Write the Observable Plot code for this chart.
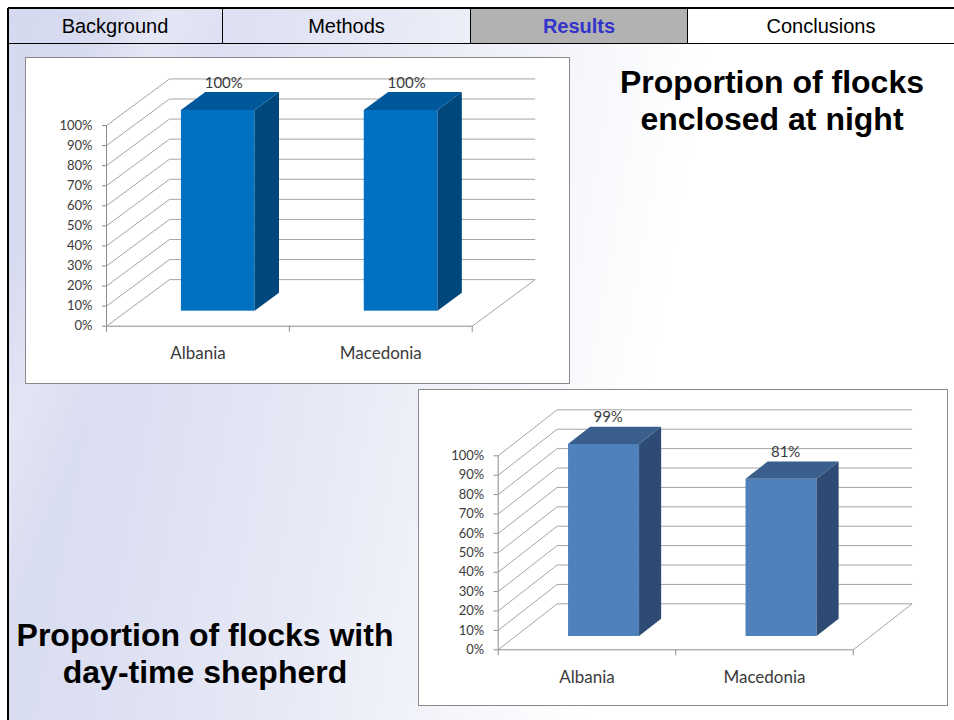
<!DOCTYPE html>
<html>
<head>
<meta charset="utf-8">
<script src="https://cdn.jsdelivr.net/npm/d3@7"></script>
<script src="https://cdn.jsdelivr.net/npm/@observablehq/plot@0.6"></script>
<style>
  html, body { margin: 0; padding: 0; width: 954px; height: 720px; overflow: hidden; background: #fff; }
  #slide { position: absolute; left: 0; top: 0; width: 954px; height: 720px; }
  #panel {
    position: absolute; left: 8px; top: 8px; width: 946px; height: 712px;
    background:
      linear-gradient(110deg, rgba(255,255,255,0) 8%, rgba(255,255,255,0.28) 13%, rgba(255,255,255,0) 19%),
      linear-gradient(100deg, #d5d9ee 0%, #dde0f2 20%, #e8eaf6 38%, #f4f5fb 52%, #ffffff 66%);
  }
  #leftRule { position: absolute; left: 7px; top: 8px; width: 2px; height: 712px; background: #000; }
  #tabs {
    position: absolute; left: 8px; top: 7px; width: 946px; height: 34px;
    border-top: 2px solid #000; border-bottom: 1px solid #000;
    display: flex; font-family: Arial, "Liberation Sans", sans-serif; font-size: 20px;
  }
  .tab { display: flex; align-items: center; justify-content: center; padding-top: 1px; border-left: 1px solid #000; box-sizing: border-box; color: #000; }
  .tab:first-child { border-left: none; }
  .tab.active { background: #b2b2b2; color: #3333cc; font-weight: bold; }
  .tab.plain { background: #fff; }
  .frame { position: absolute; background: #fff; border: 1px solid #8a8a8a; }
  .frame svg { display: block; }
  .title {
    position: absolute; text-align: center; color: #000;
    font-family: Arial, "Liberation Sans", sans-serif; font-weight: bold; font-size: 32px; line-height: 37px;
  }
</style>
</head>
<body>
<div id="slide">
  <div id="panel"></div>
  <div id="tabs">
    <div class="tab" style="width:214px">Background</div>
    <div class="tab" style="width:248px">Methods</div>
    <div class="tab active" style="width:217px">Results</div>
    <div class="tab plain" style="width:267px">Conclusions</div>
  </div>
  <div id="leftRule"></div>
  <div class="frame" id="night" style="left:25px; top:57px; width:543px; height:325px;"></div>
  <div class="frame" id="shepherd" style="left:418px; top:389px; width:528px; height:315px;"></div>
  <div class="title" style="left:590px; top:64px; width:364px;">Proportion of flocks<br>enclosed at night</div>
  <div class="title" style="left:0px; top:617px; width:410px;">Proportion of flocks with<br>day-time shepherd</div>
</div>
<script>
// Survey results: share of flocks per country
const categories = ["Albania", "Macedonia"];
const enclosedAtNight = [100, 100];
const dayTimeShepherd = [99, 81];
const percentTicks = [0, 10, 20, 30, 40, 50, 60, 70, 80, 90, 100];

// Oblique 3-D column chart: the depth vector (DX, DY) is expressed in data units,
// so walls, floor and the bar faces are all placed through the x and y scales.
function columnChart3D(values, cfg) {
  const n = categories.length;
  const {DX, DY, f0, f1, barW} = cfg;
  const bars = values.map((v, i) => ({i, v, xl: i + 0.5 - barW / 2, xr: i + 0.5 + barW / 2}));
  const depths = [f0, f1];
  const sides = bars.flatMap(b => depths.map(f => ({i: b.i, x: b.xr + f * DX, y1: f * DY, y2: b.v + f * DY})));
  const tops = bars.flatMap(b => depths.map(f => ({i: b.i, y: b.v + f * DY, x1: b.xl + f * DX, x2: b.xr + f * DX})));
  const backGrid = percentTicks.map(t => ({x1: DX, x2: n + DX, y1: t + DY, y2: t + DY}));
  const wallGrid = percentTicks.map(t => ({x1: 0, x2: DX, y1: t, y2: t + DY}));
  const floorEdge = [{x1: n, x2: n + DX, y1: 0, y2: DY}];
  const grid = "#a4a4a4", axis = "#8c8c8c", ink = "#3b3b3b";
  const seg = {x1: "x1", y1: "y1", x2: "x2", y2: "y2", stroke: grid, strokeWidth: 1};
  return Plot.plot({
    width: cfg.width, height: cfg.height,
    marginLeft: cfg.marginLeft, marginRight: cfg.marginRight,
    marginTop: cfg.marginTop, marginBottom: cfg.marginBottom,
    x: {type: "linear", domain: [0, n]},
    y: {domain: [0, 100]},
    style: {fontFamily: "Lato, 'Open Sans', sans-serif", fontSize: "13px", color: ink, background: "transparent", overflow: "visible"},
    marks: [
      Plot.link(backGrid, seg),
      Plot.link(wallGrid, seg),
      Plot.link(floorEdge, seg),
      Plot.ruleX([0], {y1: () => 0, y2: () => 100, stroke: axis}),
      Plot.ruleY([0], {x1: () => 0, x2: () => n, stroke: axis}),
      Plot.axisY({ticks: percentTicks, tickFormat: d => d + "%", tickSize: 4, tickPadding: 10, stroke: axis, fill: ink, fontSize: 13, label: null}),
      Plot.axisX({ticks: d3.range(n + 1), tickSize: 6, tickFormat: () => "", stroke: axis, label: null}),
      Plot.axisX({ticks: bars.map(b => b.i + 0.5), tickSize: 0, tickPadding: 21, tickFormat: d => categories[Math.floor(d)], fill: ink, fontSize: 17, label: null}),
      Plot.rect(bars, {x1: b => b.xl + f0 * DX, x2: b => b.xr + f0 * DX, y1: () => f0 * DY, y2: b => b.v + f0 * DY, fill: cfg.front}),
      Plot.areaY(sides, {x: "x", y1: "y1", y2: "y2", z: "i", fill: cfg.side}),
      Plot.areaX(tops, {y: "y", x1: "x1", x2: "x2", z: "i", fill: cfg.top}),
      Plot.text(bars, {x: b => b.i + 0.5 + cfg.fl * DX, y: b => b.v + f1 * DY, text: b => b.v + "%", dy: -9.5, fontSize: 15, fill: ink})
    ]
  });
}

document.getElementById("night").append(columnChart3D(enclosedAtNight, {
  width: 543, height: 325,
  marginLeft: 80, marginRight: 97.3, marginTop: 67, marginBottom: 57.3,
  DX: 0.3445, DY: 23.2, f0: 0.323, f1: 0.71, fl: 0.41, barW: 0.403,
  front: "#0070c0", top: "#00579a", side: "#00477c"
}));

document.getElementById("shepherd").append(columnChart3D(dayTimeShepherd, {
  width: 528, height: 315,
  marginLeft: 78.7, marginRight: 94.3, marginTop: 65.3, marginBottom: 55.7,
  DX: 0.332, DY: 23.7, f0: 0.29, f1: 0.665, fl: 0.36, barW: 0.40,
  front: "#4f81bd", top: "#3a5f8d", side: "#2e4c73"
}));
</script>
</body>
</html>
